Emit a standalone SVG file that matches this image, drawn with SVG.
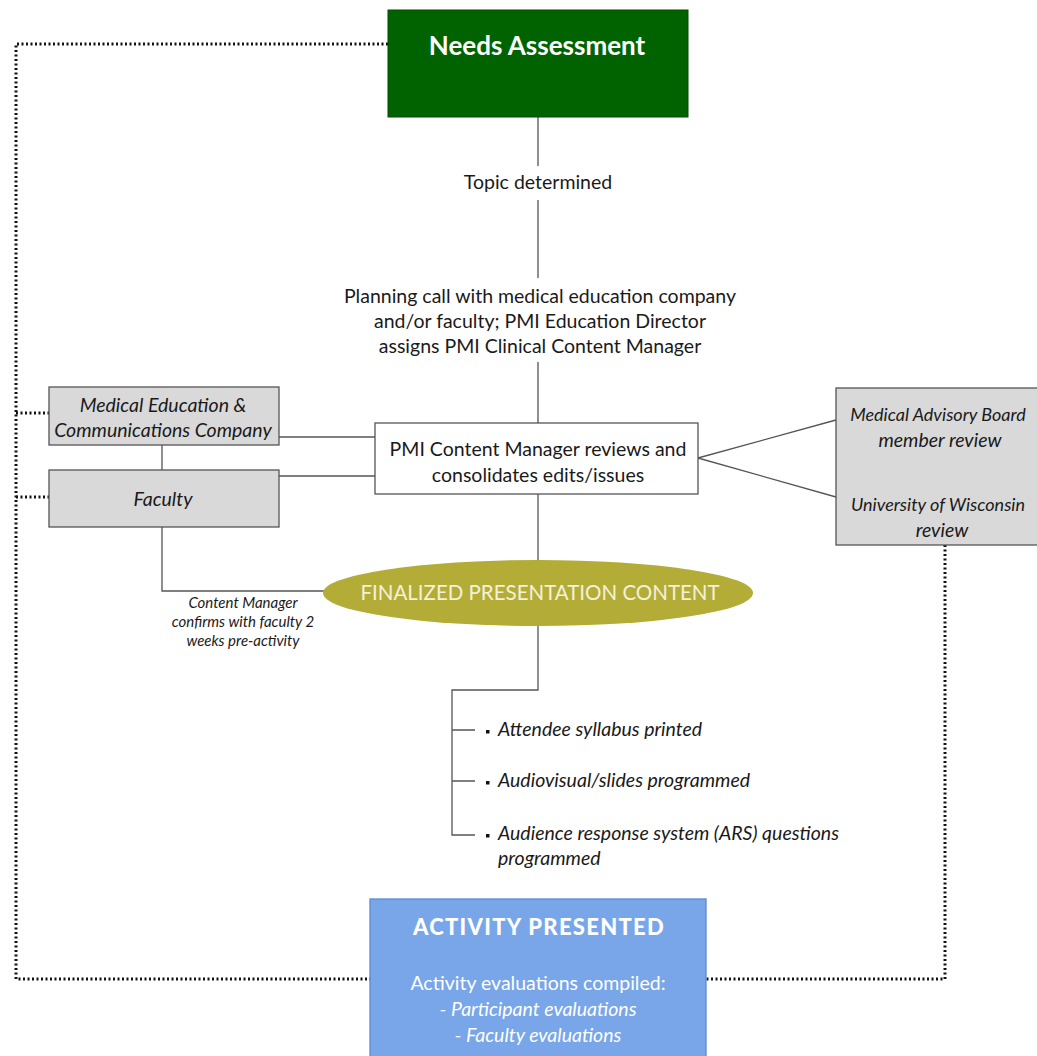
<svg xmlns="http://www.w3.org/2000/svg" width="1037" height="1056" viewBox="0 0 1037 1056">
<style>
text{font-family:Lato,"Open Sans","Liberation Sans",sans-serif;fill:#1a1a1a}
.c{text-anchor:middle}
.it{font-style:italic}
.t{font-size:19.5px}
.gray{fill:#d9d9d9;stroke:#555;stroke-width:1.3}
.ln{stroke:#555;stroke-width:1.3;fill:none}
.dot{stroke:#111;stroke-width:3;stroke-dasharray:2 2.5;fill:none}
</style>
<rect width="1037" height="1056" fill="#fff"/>
<g id="connectors">
<path class="dot" d="M388 44 H16 V979 H370"/>
<path class="dot" d="M16 413 H49 M16 497 H49"/>
<path class="dot" d="M945 545 V979 H706"/>
<path class="ln" d="M538 117 V166 M538 200 V278 M538 362 V423"/>
<path class="ln" d="M279 437 H375 M279 476 H375 M162 445 V470"/>
<path class="ln" d="M698 458 L836 420 M698 458 L836 497"/>
<path class="ln" d="M538 494 V560"/>
<path class="ln" d="M162 527 V591 H324"/>
<path class="ln" d="M538 626 V690 H452 V835 H475 M452 730 H475 M452 781 H475"/>
</g>
<g id="needs">
<rect x="388" y="10" width="300" height="107" fill="#006300" stroke="#004d00"/>
<text x="537" y="55" class="c" font-size="26" font-weight="bold" style="fill:#fff">Needs Assessment</text>
</g>
<g id="topic"><text x="538" y="189" class="c t">Topic determined</text></g>
<g id="planning">
<text x="540" y="303" class="c t">Planning call with medical education company</text>
<text x="540" y="328" class="c t">and/or faculty; PMI Education Director</text>
<text x="540" y="353" class="c t">assigns PMI Clinical Content Manager</text>
</g>
<g id="medcomm">
<rect class="gray" x="49" y="387" width="230" height="58"/>
<text x="163" y="412" class="c it t">Medical Education &amp;</text>
<text x="163" y="437" class="c it t">Communications Company</text>
</g>
<g id="faculty">
<rect class="gray" x="49" y="470" width="230" height="57"/>
<text x="163" y="506" class="c it t">Faculty</text>
</g>
<g id="pmi">
<rect x="375" y="423" width="323" height="71" fill="#fff" stroke="#555" stroke-width="1.3"/>
<text x="538" y="456" class="c t">PMI Content Manager reviews and</text>
<text x="538" y="482" class="c t">consolidates edits/issues</text>
</g>
<g id="review">
<rect class="gray" x="836" y="388" width="215" height="157"/>
<text x="938" y="421" class="c it" font-size="18">Medical Advisory Board</text>
<text x="940" y="447" class="c it t">member review</text>
<text x="938" y="511" class="c it" font-size="18">University of Wisconsin</text>
<text x="942" y="537" class="c it t">review</text>
</g>
<g id="finalized">
<ellipse cx="538" cy="593" rx="215" ry="33" fill="#b3ad37"/>
<text x="540" y="600" class="c" font-size="20.5" style="fill:#f4f1d8">FINALIZED PRESENTATION CONTENT</text>
</g>
<g id="confirm">
<text x="243" y="608" class="c it" font-size="15">Content Manager</text>
<text x="243" y="627" class="c it" font-size="15">confirms with faculty 2</text>
<text x="243" y="646" class="c it" font-size="15">weeks pre-activity</text>
</g>
<g id="tasks">
<rect x="486" y="730" width="3.5" height="3.5" fill="#111"/>
<text x="498" y="736" class="it t">Attendee syllabus printed</text>
<rect x="486" y="781" width="3.5" height="3.5" fill="#111"/>
<text x="498" y="787" class="it t">Audiovisual/slides programmed</text>
<rect x="486" y="834" width="3.5" height="3.5" fill="#111"/>
<text x="498" y="840" class="it t">Audience response system (ARS) questions</text>
<text x="498" y="865" class="it t">programmed</text>
</g>
<g id="activity">
<rect x="370" y="899" width="336" height="160" fill="#78a6e8" stroke="#5b8ad6" stroke-width="1.3"/>
<text x="539" y="935" class="c" font-size="22" font-weight="900" letter-spacing="1.3" style="fill:#fff">ACTIVITY PRESENTED</text>
<text x="538" y="990" class="c t" style="fill:#fff">Activity evaluations compiled:</text>
<text x="538" y="1016" class="c it t" style="fill:#fff">- Participant evaluations</text>
<text x="538" y="1042" class="c it t" style="fill:#fff">- Faculty evaluations</text>
</g>
</svg>
